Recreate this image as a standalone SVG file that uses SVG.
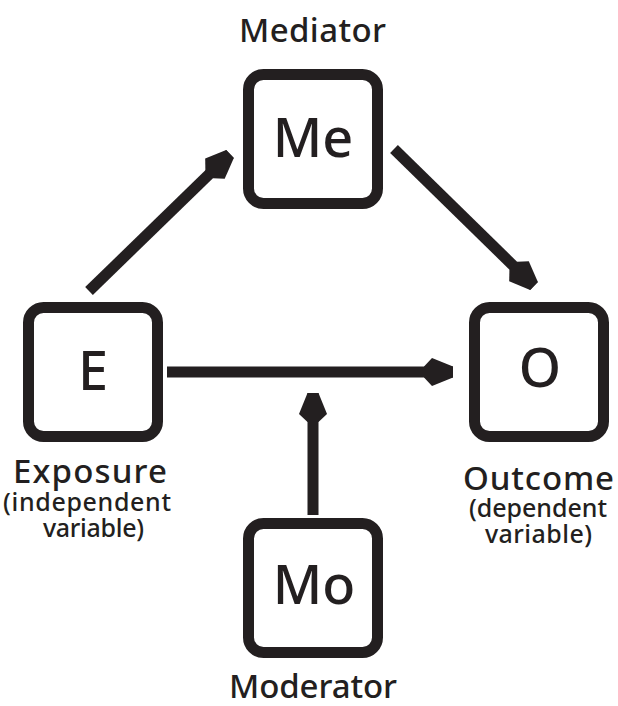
<svg xmlns="http://www.w3.org/2000/svg" width="618" height="706" viewBox="0 0 618 706">
  <style>
    .box { fill: #ffffff; stroke: #231f20; stroke-width: 11; }
    .t { font-family: "Noto Sans", "Liberation Sans", sans-serif; font-weight: 500; fill: #231f20; text-anchor: middle; }
    .letter { font-size: 54px; }
    .label { font-size: 33px; }
    .sub { font-size: 25px; }
    .edge { stroke: #231f20; stroke-width: 11; fill: none; marker-end: url(#ah); }
  </style>
  <defs>
    <marker id="ah" markerUnits="userSpaceOnUse" orient="auto" refX="0" refY="0" markerWidth="40" markerHeight="40" overflow="visible">
      <path d="M0,-5.5 L0,5.5 L-21,14 L-29,5.5 L-29,-5.5 L-21,-14 Z" fill="#231f20"/>
    </marker>
  </defs>
  <rect width="618" height="706" fill="#ffffff"/>

  <g id="connectors">
    <line class="edge" x1="89" y1="291" x2="230" y2="154"/>
    <line class="edge" x1="394" y1="149" x2="534" y2="286"/>
    <line class="edge" x1="167" y1="372" x2="453" y2="372"/>
    <line class="edge" x1="313" y1="515" x2="313" y2="393"/>
  </g>

  <g id="node-mediator">
    <rect class="box" x="248.5" y="74.5" width="129" height="129" rx="15"/>
    <text class="t letter" x="313" y="157">Me</text>
    <text class="t label" x="312.5" y="42" textLength="147">Mediator</text>
  </g>

  <g id="node-exposure">
    <rect class="box" x="28.5" y="307.5" width="129" height="129" rx="15"/>
    <text class="t letter" x="93" y="390">E</text>
    <text class="t label" x="90" y="483" textLength="154">Exposure</text>
    <text class="t sub" x="87" y="511" textLength="168">(independent</text>
    <text class="t sub" x="93.5" y="537" textLength="101">variable)</text>
  </g>

  <g id="node-outcome">
    <rect class="box" x="474.5" y="307.5" width="129" height="129" rx="15"/>
    <text class="t letter" x="540" y="387">O</text>
    <text class="t label" x="538.5" y="490" textLength="151">Outcome</text>
    <text class="t sub" x="538" y="517" textLength="138">(dependent</text>
    <text class="t sub" x="538.5" y="543" textLength="107">variable)</text>
  </g>

  <g id="node-moderator">
    <rect class="box" x="248.5" y="523.5" width="129" height="129" rx="15"/>
    <text class="t letter" x="314" y="604">Mo</text>
    <text class="t label" x="313" y="698" textLength="168">Moderator</text>
  </g>
</svg>
